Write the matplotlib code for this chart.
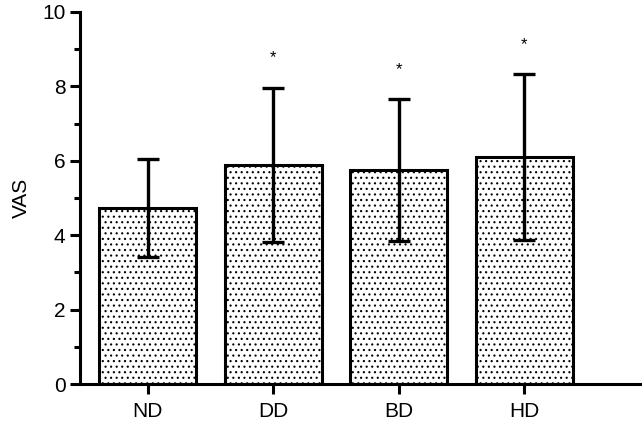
import matplotlib.pyplot as plt
import numpy as np

plt.rcParams['font.family'] = ['Liberation Sans', 'DejaVu Sans']
plt.rcParams['hatch.linewidth'] = 0.8

# group means and SDs
groups = ["ND", "DD", "BD", "HD"]
means = [4.73, 5.89, 5.75, 6.10]
sds = [1.31, 2.07, 1.91, 2.23]
signif = ["", "*", "*", "*"]

fig = plt.figure(figsize=(6.42, 4.22), dpi=100)
ax = fig.add_axes([0.1246, 0.09, 0.872, 0.8816])

x = np.arange(len(groups))
ax.bar(x, means, width=0.77, color="white", edgecolor="black", linewidth=2.2,
       hatch="...", zorder=2)
ax.errorbar(x, means, yerr=sds, fmt="none", ecolor="black", elinewidth=2.4,
            capsize=8, capthick=2.4, zorder=3)
for xi, m, s, lab in zip(x, means, sds, signif):
    if lab:
        ax.text(xi, m + s + 0.6, lab, ha="center", va="bottom", fontsize=12)

ax.set_xlim(-0.54, 3.92)
ax.set_ylim(0, 10)
ax.set_yticks([0, 2, 4, 6, 8, 10])
ax.set_yticks([1, 3, 5, 7, 9], minor=True)
ax.set_xticks(x)
ax.set_xticklabels(groups)
ax.set_ylabel("VAS", fontsize=15, labelpad=8)

for side in ["top", "right"]:
    ax.spines[side].set_visible(False)
for side in ["left", "bottom"]:
    ax.spines[side].set_linewidth(2.2)
ax.tick_params(axis="both", which="major", length=7, width=2.2, labelsize=15)
ax.tick_params(axis="x", which="major", pad=6)
ax.tick_params(axis="y", which="minor", length=4, width=2.2)
ax.tick_params(axis="x", which="minor", length=0)

fig.savefig("out.png", dpi=100)
